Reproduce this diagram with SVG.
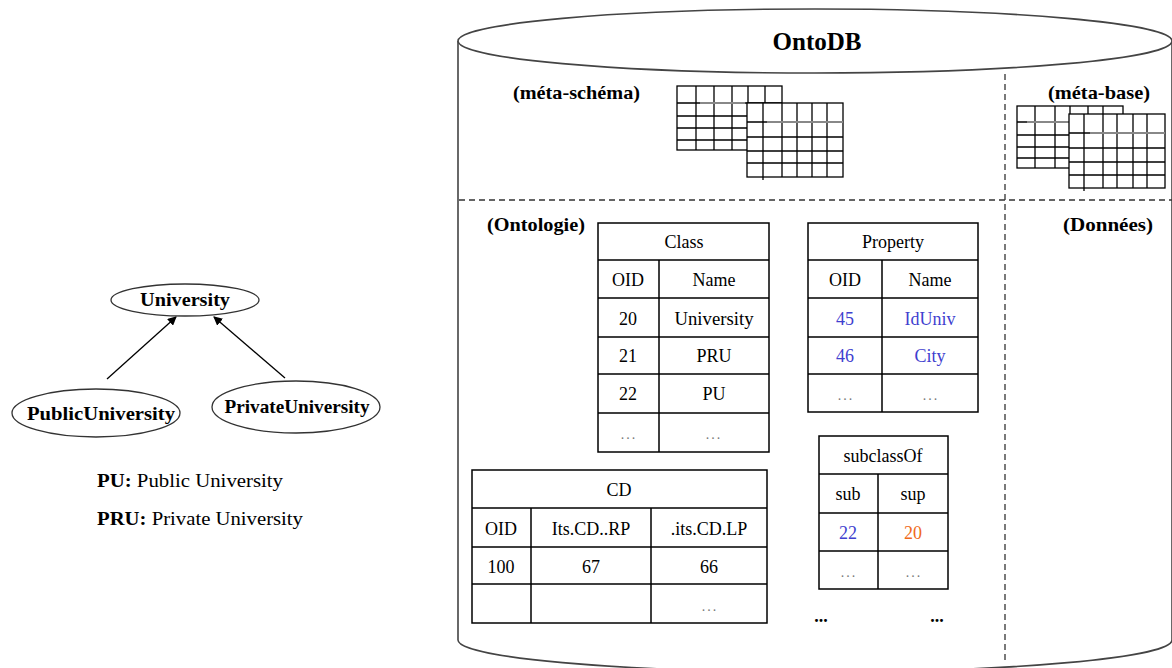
<svg xmlns="http://www.w3.org/2000/svg" width="1172" height="668" viewBox="0 0 1172 668">
<defs>
<marker id="arr" markerWidth="9" markerHeight="9" refX="8" refY="4.5" orient="auto" markerUnits="userSpaceOnUse">
<path d="M0,0 L9,4.5 L0,9 Z" fill="#000"/>
</marker>
<style>
.b{font-weight:bold}
.t{font-size:18px;text-anchor:middle}
.dots{font-size:14px;text-anchor:middle;fill:#777;letter-spacing:2px}
.blue{fill:#3f3fcf}
.orange{fill:#f06a1a}
.tb{fill:#fff;stroke:#000;stroke-width:1.5}
.ln{stroke:#000;stroke-width:1.5}
.g{fill:#fff;stroke:#000;stroke-width:1.3}
.gl{stroke:#000;stroke-width:1.3}
.gray{stroke:#888;stroke-width:2}
.dash{stroke:#333;stroke-width:1.3;stroke-dasharray:6,4;fill:none}
.ell{fill:#fff;stroke:#333;stroke-width:1.3}
</style>
</defs>
<rect width="1172" height="668" fill="#fff"/>
<g font-family="'Liberation Serif', 'DejaVu Serif', serif" fill="#000">

<!-- Cylinder -->
<g id="ontodb">
<path d="M458,41 L458,640 A357,32 0 0 0 1172,640 L1172,41" fill="#fff" stroke="#444" stroke-width="1.6"/>
<ellipse cx="815" cy="41" rx="357" ry="32" fill="#fff" stroke="#444" stroke-width="1.6"/>
<text x="817" y="50" class="b" font-size="26" text-anchor="middle" textLength="89" lengthAdjust="spacingAndGlyphs">OntoDB</text>
<line x1="1005" y1="74" x2="1005" y2="664" class="dash"/>
<line x1="459" y1="200" x2="1172" y2="200" class="dash"/>
<text x="513" y="99" class="b" font-size="19" textLength="127" lengthAdjust="spacingAndGlyphs">(méta-schéma)</text>
<text x="1048" y="99" class="b" font-size="19" textLength="102" lengthAdjust="spacingAndGlyphs">(méta-base)</text>
<text x="487" y="231" class="b" font-size="19" textLength="98" lengthAdjust="spacingAndGlyphs">(Ontologie)</text>
<text x="1063" y="231" class="b" font-size="19" textLength="90" lengthAdjust="spacingAndGlyphs">(Données)</text>
</g>

<!-- meta-schema grids -->
<g id="meta-schema-grids">
<rect x="677" y="86" width="105" height="64" class="g"/>
<path d="M696,86V150M714,86V150M732,86V150M748,86V150M765,86V150M677,103H782M677,116H782M677,128H782M677,140H782" class="gl"/>
<line x1="700" y1="103" x2="745" y2="103" class="gray"/>
<rect x="747" y="103" width="96" height="74" class="g"/>
<path d="M763,103V180M782,103V177M797,103V177M812,103V177M827,103V177M747,122H843M747,137H843M747,151H843M747,163H843" class="gl"/>
<line x1="767" y1="122" x2="843" y2="122" class="gray"/>
</g>

<!-- meta-base grids -->
<g id="meta-base-grids">
<rect x="1017" y="106" width="106" height="62" class="g"/>
<path d="M1035,106V168M1055,106V168M1070,106V168M1088,106V168M1103,106V168M1017,122H1123M1017,135H1123M1017,147H1123M1017,158H1123" class="gl"/>
<line x1="1027" y1="122" x2="1070" y2="122" class="gray"/>
<rect x="1069" y="114" width="96" height="74" class="g"/>
<path d="M1084,114V191M1103,114V188M1117,114V188M1133,114V188M1147,114V188M1069,133H1165M1069,148H1165M1069,162H1165M1069,175H1165" class="gl"/>
<line x1="1090" y1="133" x2="1165" y2="133" class="gray"/>
</g>

<!-- Class table -->
<g id="class-table">
<rect x="598" y="223" width="171" height="229" class="tb"/>
<path d="M598,260H769M598,298H769M598,337H769M598,374H769M598,413H769M659,260V452" class="ln"/>
<text x="684" y="248" class="t">Class</text>
<text x="628" y="286" class="t">OID</text>
<text x="714" y="286" class="t">Name</text>
<text x="628" y="325" class="t">20</text>
<text x="714" y="325" class="t" textLength="79" lengthAdjust="spacingAndGlyphs">University</text>
<text x="628" y="362" class="t">21</text>
<text x="714" y="362" class="t">PRU</text>
<text x="628" y="400" class="t">22</text>
<text x="714" y="400" class="t">PU</text>
<text x="629" y="439" class="dots">...</text>
<text x="714" y="439" class="dots">...</text>
</g>

<!-- Property table -->
<g id="property-table">
<rect x="808" y="223" width="170" height="189" class="tb"/>
<path d="M808,260H978M808,298H978M808,337H978M808,374H978M882,260V412" class="ln"/>
<text x="893" y="248" class="t">Property</text>
<text x="845" y="286" class="t">OID</text>
<text x="930" y="286" class="t">Name</text>
<text x="845" y="325" class="t blue">45</text>
<text x="930" y="325" class="t blue">IdUniv</text>
<text x="845" y="362" class="t blue">46</text>
<text x="930" y="362" class="t blue">City</text>
<text x="846" y="400" class="dots">...</text>
<text x="931" y="400" class="dots">...</text>
</g>

<!-- subclassOf table -->
<g id="subclassof-table">
<rect x="819" y="436" width="129" height="153" class="tb"/>
<path d="M819,474H948M819,513H948M819,551H948M878,474V589" class="ln"/>
<text x="883" y="462" class="t">subclassOf</text>
<text x="848" y="500" class="t">sub</text>
<text x="913" y="500" class="t">sup</text>
<text x="848" y="539" class="t blue">22</text>
<text x="913" y="539" class="t orange">20</text>
<text x="849" y="577" class="dots">...</text>
<text x="914" y="577" class="dots">...</text>
</g>

<!-- CD table -->
<g id="cd-table">
<rect x="472" y="470" width="295" height="153" class="tb"/>
<path d="M472,508H767M472,547H767M472,584H767M531,508V623M651,508V623" class="ln"/>
<text x="619" y="496" class="t">CD</text>
<text x="501" y="535" class="t">OID</text>
<text x="591" y="535" class="t">Its.CD..RP</text>
<text x="709" y="535" class="t">.its.CD.LP</text>
<text x="501" y="573" class="t">100</text>
<text x="591" y="573" class="t">67</text>
<text x="709" y="573" class="t">66</text>
<text x="710" y="611" class="dots">...</text>
</g>

<g id="more-dots">
<text x="821" y="622" class="b" font-size="18" text-anchor="middle">...</text>
<text x="937" y="622" class="b" font-size="18" text-anchor="middle">...</text>
</g>

<!-- Left graph -->
<g id="connectors">
<line x1="107" y1="379" x2="176" y2="317" stroke="#000" stroke-width="1.3" marker-end="url(#arr)"/>
<line x1="285" y1="378" x2="214" y2="317" stroke="#000" stroke-width="1.3" marker-end="url(#arr)"/>
</g>
<g id="university">
<ellipse cx="185" cy="300" rx="74" ry="16" class="ell"/>
<text x="185" y="306" class="b" font-size="19" text-anchor="middle" textLength="90" lengthAdjust="spacingAndGlyphs">University</text>
</g>
<g id="publicuniversity">
<ellipse cx="96" cy="413" rx="84" ry="24" class="ell"/>
<text x="101" y="420" class="b" font-size="19" text-anchor="middle" textLength="148" lengthAdjust="spacingAndGlyphs">PublicUniversity</text>
</g>
<g id="privateuniversity">
<ellipse cx="296" cy="407" rx="84" ry="26" class="ell"/>
<text x="297" y="413" class="b" font-size="19" text-anchor="middle" textLength="145" lengthAdjust="spacingAndGlyphs">PrivateUniversity</text>
</g>
<g id="legend">
<text x="97" y="487" font-size="18" textLength="186" lengthAdjust="spacingAndGlyphs"><tspan class="b">PU:</tspan> Public University</text>
<text x="97" y="525" font-size="18" textLength="206" lengthAdjust="spacingAndGlyphs"><tspan class="b">PRU:</tspan> Private University</text>
</g>
</g>
</svg>
